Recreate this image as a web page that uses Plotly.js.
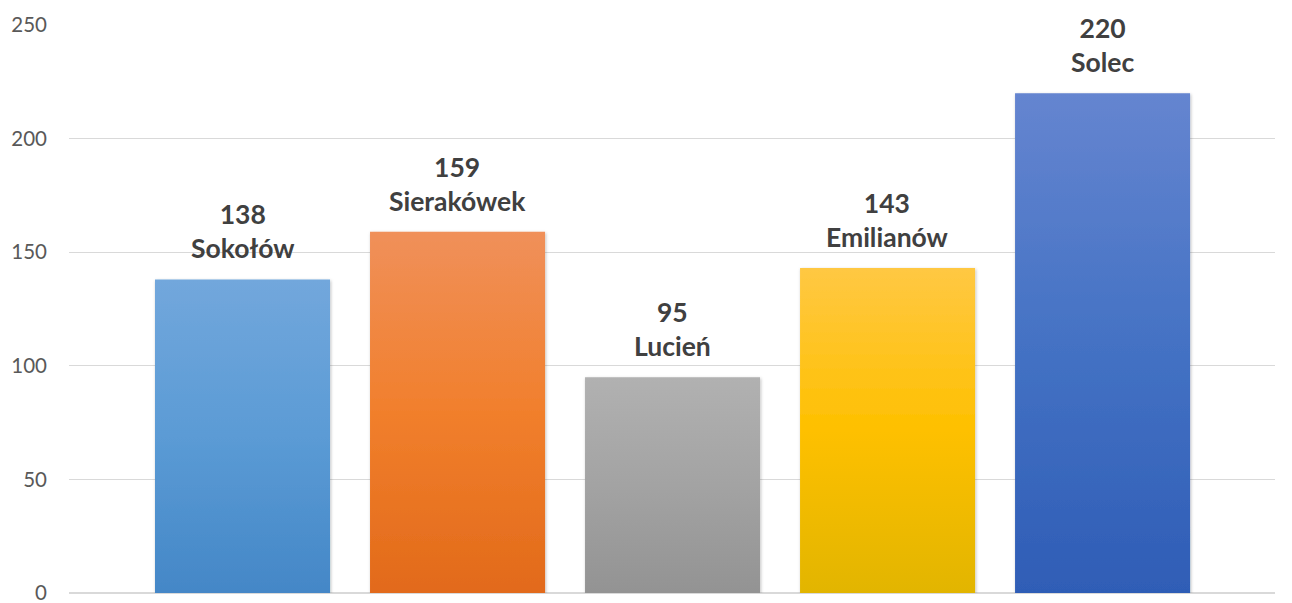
<!DOCTYPE html>
<html>
<head>
<meta charset="utf-8">
<script src="https://cdn.plot.ly/plotly-3.0.1.min.js"></script>
<style>
html,body{margin:0;padding:0;background:#fff;}
#chart{width:1292px;height:603px;}
</style>
</head>
<body>
<div id="chart"></div>
<script>
// ---- data ----
const categories = ['Sokołów', 'Sierakówek', 'Lucień', 'Emilianów', 'Solec'];
const values = [138, 159, 95, 143, 220];
const yTicks = [0, 50, 100, 150, 200, 250];

// ---- styles ----
const gradTop = ['#72A7DC', '#F0905A', '#B1B1B1', '#FFC843', '#6585D0'];
const gradMid = ['#5B9BD5', '#F17F2C', '#A3A3A3', '#FEC000', '#4472C4'];
const gradBot = ['#4487C7', '#E26A1A', '#939393', '#E2B500', '#2F5DB6'];
const labelFont = 'Lato, "Open Sans", sans-serif';

const trace = {
  type: 'bar',
  x: categories,
  y: values,
  width: 0.814,
  marker: { color: gradMid, line: { width: 0 } },
  hoverinfo: 'none'
};

const annotations = categories.map((c, i) => ({
  x: c,
  y: values[i],
  xref: 'x',
  yref: 'y',
  yanchor: 'bottom',
  yshift: 13,
  showarrow: false,
  align: 'center',
  text: '<b>' + values[i] + '</b><br><b>' + c + '</b>',
  font: { family: labelFont, size: 26.5, color: '#404040' }
}));

const layout = {
  width: 1292,
  height: 603,
  margin: { l: 69, r: 17, t: 25, b: 10, pad: 0 },
  paper_bgcolor: '#ffffff',
  plot_bgcolor: '#ffffff',
  showlegend: false,
  xaxis: {
    type: 'category',
    range: [-0.807, 4.802],
    showticklabels: false,
    showgrid: false,
    zeroline: false,
    showline: false,
    ticks: ''
  },
  yaxis: {
    range: [0, 250],
    tickvals: yTicks,
    ticktext: yTicks.map(String),
    showgrid: true,
    gridcolor: '#D9D9D9',
    gridwidth: 1.3,
    zeroline: true,
    zerolinecolor: '#D9D9D9',
    zerolinewidth: 1.3,
    showline: false,
    ticks: '',
    ticklabelstandoff: 21,
    ticklabeloverflow: 'allow',
    tickfont: { family: labelFont, size: 20.5, color: '#595959' }
  },
  annotations: annotations
};

Plotly.newPlot('chart', [trace], layout, { displayModeBar: false, staticPlot: true }).then(gd => {
  const svg = gd.querySelector('svg.main-svg');
  const NS = 'http://www.w3.org/2000/svg';
  let defs = svg.querySelector('defs');
  if (!defs) { defs = document.createElementNS(NS, 'defs'); svg.insertBefore(defs, svg.firstChild); }
  const filt = document.createElementNS(NS, 'filter');
  filt.setAttribute('id', 'barshadow');
  filt.setAttribute('x', '-10%'); filt.setAttribute('y', '-10%');
  filt.setAttribute('width', '120%'); filt.setAttribute('height', '120%');
  const ds = document.createElementNS(NS, 'feDropShadow');
  ds.setAttribute('dx', '0.8'); ds.setAttribute('dy', '1.2');
  ds.setAttribute('stdDeviation', '1.8');
  ds.setAttribute('flood-color', '#000'); ds.setAttribute('flood-opacity', '0.28');
  filt.appendChild(ds);
  defs.appendChild(filt);
  categories.forEach((c, i) => {
    const lg = document.createElementNS(NS, 'linearGradient');
    lg.setAttribute('id', 'bargrad' + i);
    lg.setAttribute('x1', '0'); lg.setAttribute('y1', '0');
    lg.setAttribute('x2', '0'); lg.setAttribute('y2', '1');
    [[0, gradTop[i]], [0.5, gradMid[i]], [1, gradBot[i]]].forEach(([o, col]) => {
      const s = document.createElementNS(NS, 'stop');
      s.setAttribute('offset', o);
      s.setAttribute('stop-color', col);
      lg.appendChild(s);
    });
    defs.appendChild(lg);
  });
  const paths = gd.querySelectorAll('.barlayer .point path');
  paths.forEach((p, i) => {
    p.style.fill = 'url(#bargrad' + i + ')';
    p.setAttribute('filter', 'url(#barshadow)');
  });
});
</script>
</body>
</html>
